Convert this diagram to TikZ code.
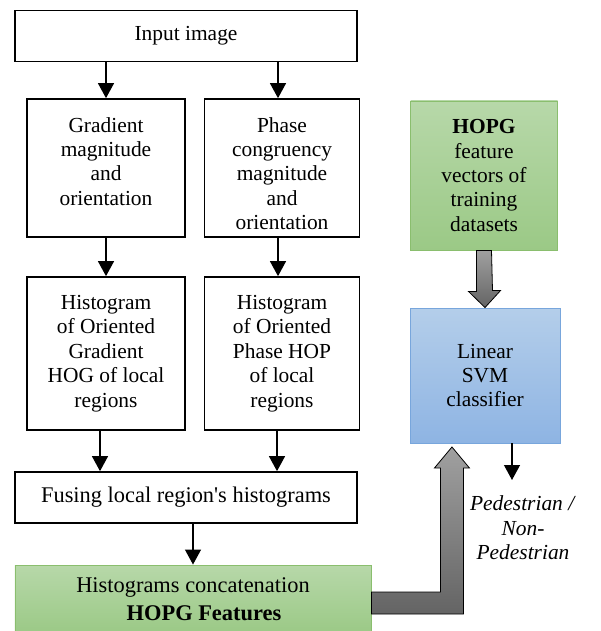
\documentclass[tikz,border=0pt]{standalone}
\usepackage{fontspec}
\setmainfont{Liberation Serif}[Ligatures=TeXOff]
\usepackage{tikz}
\usetikzlibrary{arrows.meta}
\definecolor{greentop}{RGB}{183,216,169}
\definecolor{greenbot}{RGB}{155,201,134}
\definecolor{greenline}{RGB}{138,190,110}
\definecolor{bluetop}{RGB}{180,206,234}
\definecolor{bluebot}{RGB}{142,180,227}
\definecolor{blueline}{RGB}{120,166,220}
\tikzset{>/.tip={Triangle[length=15bp,width=16bp]},
  plainbox/.style={draw=black, line width=1.7bp, align=center, inner sep=0pt},
  greenbox/.style={draw=greenline, line width=0.9bp, top color=greentop, bottom color=greenbot, align=center, inner sep=0pt},
  bluebox/.style={draw=blueline, line width=0.9bp, top color=bluetop, bottom color=bluebot, align=center, inner sep=0pt},
  thinarrow/.style={->, line width=1.2bp},
  widetext/.style={font=\fontsize{22.5}{28}\selectfont},
  blockarrow/.style={draw=black, line width=0.8bp, top color={rgb,255:red,160;green,160;blue,160}, bottom color={rgb,255:red,100;green,100;blue,100}}}

\begin{document}
\begin{tikzpicture}[x=1bp, y=-1bp, font=\fontsize{21.5}{24.5}\selectfont]
\useasboundingbox (0,0) rectangle (601,631);
\node[plainbox, minimum width=342bp, minimum height=51bp] (input) at (186,36) {Input image};
\node[plainbox, minimum width=158bp, minimum height=138bp] (grad) at (106,168) {\mbox{}\\[1.5bp]Gradient\\magnitude\\and\\orientation\\\mbox{}};
\node[plainbox, minimum width=155bp, minimum height=138bp] (phase) at (282,168) {\mbox{}\\[1.5bp]Phase\\congruency\\magnitude\\and\\orientation};
\node[plainbox, minimum width=158bp, minimum height=153bp] (hog) at (106,353.5) {Histogram\\of Oriented\\Gradient\\HOG of local\\regions};
\node[plainbox, minimum width=155bp, minimum height=153bp] (hop) at (282,353.5) {Histogram\\of Oriented\\Phase HOP\\of local\\regions};
\node[plainbox, widetext, minimum width=342bp, minimum height=51bp] (fuse) at (186,497.5) {Fusing local region's histograms};
\node[greenbox, widetext, minimum width=356bp, minimum height=68bp] (concat) at (193,599) {Histograms concatenation\\\hspace*{22bp}\textbf{HOPG Features}};

\node[greenbox, minimum width=147bp, minimum height=149bp] (train) at (484,175.5) {\textbf{HOPG}\\feature\\vectors of\\training\\datasets};
\node[bluebox, minimum width=150bp, minimum height=135bp] (svm) at (485,375.5) {Linear\\SVM\\classifier};
\node[align=center] (result) at (523,528) {\textit{Pedestrian /}\\\textit{Non-}\\\textit{Pedestrian}};
\coordinate (resultin) at (512,480);

\path[thinarrow] (grad.north |- input.south) edge (grad.north);
\path[thinarrow] ([xshift=-4bp]phase.north |- input.south) edge ([xshift=-4bp]phase.north);
\path[thinarrow] (grad.south) edge (hog.north);
\path[thinarrow] ([xshift=-4bp]phase.south) edge ([xshift=-4bp]hop.north);
\path[thinarrow] ([xshift=-6bp]hog.south) edge ([xshift=-6bp]hog.south |- fuse.north);
\path[thinarrow] ([xshift=-5bp]hop.south) edge ([xshift=-5bp]hop.south |- fuse.north);
\path[thinarrow] (concat.north |- fuse.south) edge (concat.north);
\path[thinarrow] (resultin |- svm.south) edge (resultin);

\draw[blockarrow] ([xshift=-7.5bp]train.south) -- ++(0,41) -- ++(-8,0) -- (svm.north) -- ++(15.5,-17) -- ++(-8,0) -- ([xshift=7.5bp]train.south) -- cycle;
\draw[blockarrow] ([yshift=7bp]concat.east) -- ++(69,0) -- ++(0,-124) -- ++(-6,0) -- ++(17.5,-21) -- ++(17.5,21) -- ++(-6,0) -- ++(0,146) -- ([yshift=-15bp]concat.east) -- cycle;
\end{tikzpicture}
\end{document}
